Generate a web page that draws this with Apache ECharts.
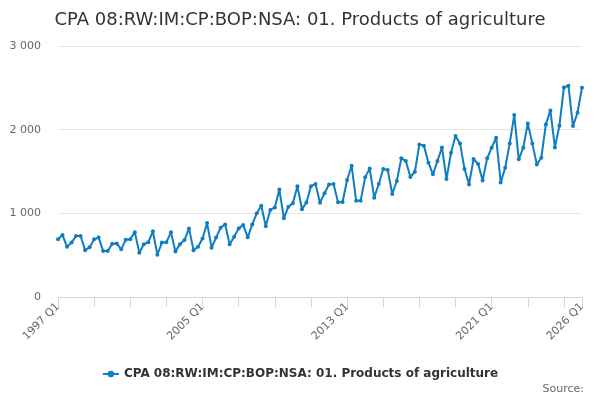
<!DOCTYPE html>
<html>
<head>
<meta charset="utf-8">
<script src="https://cdn.jsdelivr.net/npm/echarts@6/dist/echarts.min.js"></script>
<style>
  html, body { margin: 0; padding: 0; background: #fff; }
  #chart { width: 600px; height: 400px; }
</style>
</head>
<body>
<div id="chart"></div>
<script>
var seriesName = 'CPA 08:RW:IM:CP:BOP:NSA: 01. Products of agriculture';
var firstYear = 1997;
var quarterCount = 117;
var yTicks = [0, 1000, 2000, 3000];

// quarterly values, 1997 Q1 .. 2026 Q1
var values = [
  690, 740, 600, 650, 730, 730, 560, 595,
  690, 710, 550, 550, 635, 640, 570, 685,
  690, 775, 530, 630, 655, 785, 505, 650,
  655, 773, 545, 630, 680, 820, 560, 600,
  700, 885, 590, 710, 828, 868, 630, 720,
  820, 860, 713, 868, 1000, 1090, 845, 1040,
  1071, 1285, 940, 1080, 1120, 1325, 1050, 1130,
  1325, 1350, 1127, 1240, 1346, 1350, 1131, 1135,
  1398, 1569, 1151, 1151, 1430, 1537, 1187, 1350,
  1529, 1517, 1231, 1386, 1657, 1625, 1434, 1497,
  1824, 1808, 1605, 1466, 1625, 1788, 1410, 1724,
  1923, 1836, 1529, 1346, 1649, 1590, 1392, 1657,
  1784, 1903, 1370, 1545, 1836, 2174, 1645, 1784,
  2075, 1836, 1585, 1665, 2063, 2230, 1788, 2047,
  2505, 2525, 2043, 2202, 2501
];

var categories = [];
for (var i = 0; i < quarterCount; i++) {
  categories.push((firstYear + Math.floor(i / 4)) + ' Q' + (i % 4 + 1));
}
var last = categories.length - 1;

echarts.init(document.getElementById('chart'), null, { renderer: 'canvas' }).setOption({
  animation: false,
  color: ['#0f7dc2'],
  title: [{
    text: seriesName,
    left: 'center',
    top: 6,
    textStyle: {
      fontFamily: 'DejaVu Sans',
      fontSize: 18,
      fontWeight: 'normal',
      color: '#333333'
    }
  }, {
    text: 'Source:',
    right: 11,
    bottom: 0,
    textStyle: {
      fontFamily: 'DejaVu Sans',
      fontSize: 11,
      fontWeight: 'normal',
      color: '#666666'
    }
  }],
  grid: {
    left: 58,
    right: 18,
    top: 46,
    bottom: 103,
    containLabel: false
  },
  legend: {
    bottom: 15,
    left: 'center',
    itemWidth: 16,
    itemHeight: 8,
    textStyle: {
      fontFamily: 'DejaVu Sans',
      fontSize: 12,
      fontWeight: 'bold',
      color: '#333333'
    },
    data: [seriesName]
  },
  xAxis: {
    type: 'category',
    data: categories,
    boundaryGap: false,
    axisLine: { lineStyle: { color: '#ccd6eb', width: 1 } },
    axisTick: {
      length: 10,
      lineStyle: { color: '#ccd6eb' },
      interval: function (index) {
        return index % 8 === 0 || index === last;
      }
    },
    axisLabel: {
      rotate: 45,
      margin: 8,
      fontFamily: 'DejaVu Sans',
      fontSize: 11,
      color: '#666666',
      interval: function (index) {
        return index % 32 === 0 || index === last;
      }
    },
    splitLine: { show: false }
  },
  yAxis: {
    type: 'value',
    min: yTicks[0],
    max: yTicks[yTicks.length - 1],
    interval: 1000,
    axisLine: { show: false },
    axisTick: { show: false },
    axisLabel: {
      margin: 17,
      fontFamily: 'DejaVu Sans',
      fontSize: 11,
      color: '#666666',
      formatter: function (v) {
        return String(v).replace(/\B(?=(\d{3})+(?!\d))/g, ' ');
      }
    },
    splitLine: { lineStyle: { color: '#e6e6e6', width: 1 } }
  },
  series: [{
    name: seriesName,
    type: 'line',
    data: values,
    symbol: 'circle',
    symbolSize: 4,
    showAllSymbol: true,
    lineStyle: { width: 2 },
    itemStyle: { color: '#0f7dc2' }
  }]
});
</script>
</body>
</html>
